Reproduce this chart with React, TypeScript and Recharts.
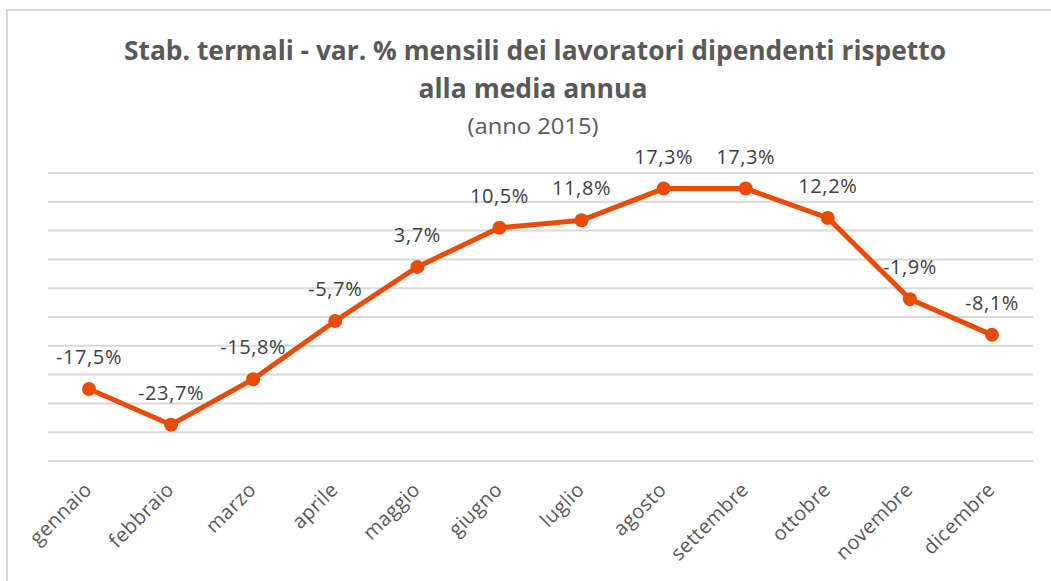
import React from 'react';
import { LineChart, Line, XAxis, YAxis, CartesianGrid, LabelList } from 'recharts';

const months = ['gennaio', 'febbraio', 'marzo', 'aprile', 'maggio', 'giugno', 'luglio', 'agosto', 'settembre', 'ottobre', 'novembre', 'dicembre'];
const variations = [-17.5, -23.7, -15.8, -5.7, 3.7, 10.5, 11.8, 17.3, 17.3, 12.2, -1.9, -8.1];
const yTicks = [-30, -25, -20, -15, -10, -5, 0, 5, 10, 15, 20];

const ORANGE = '#EA4C08';
const TEXT = '#595959';
const FONT = '"Open Sans", sans-serif';

const fmt = (v: number) => `${v.toFixed(1).replace('.', ',')}%`;

function MonthTick({ x, y, payload }: any) {
    const ax = x + 4;
    const ay = y + 22;
    return (
        <text x={ax} y={ay} transform={`rotate(-45, ${ax}, ${ay})`} textAnchor="end"
            fontFamily={FONT} fontSize={20} letterSpacing={0.4} fill={TEXT}>
            {payload.value}
        </text>
    );
}

function PointLabel({ x, y, value }: any) {
    return (
        <text x={x} y={y - 25} textAnchor="middle" fontFamily={FONT} fontSize={20} letterSpacing={0.6} fill="#404040">
            {fmt(Number(value))}
        </text>
    );
}

export default function App() {
    const data = months.map((m, i) => ({ month: m, value: variations[i] }));

    return (
        <div style={{ position: 'absolute', left: 0, top: 0, width: 1051, height: 581, background: '#fff', overflow: 'hidden' }}>
            {/* bordo del grafico */}
            <div style={{ position: 'absolute', left: 6, top: 9, width: 1060, height: 600, borderLeft: '2px solid #d9d9d9', borderTop: '2px solid #d9d9d9' }} />
            <svg width={1051} height={150} style={{ position: 'absolute', left: 0, top: 0 }}>
                <text x={535} y={60} textAnchor="middle" fontFamily={FONT} fontWeight={700} fontSize={26} fill={TEXT}
                    textLength={822} lengthAdjust="spacingAndGlyphs">
                    Stab. termali - var. % mensili dei lavoratori dipendenti rispetto
                </text>
                <text x={533} y={98} textAnchor="middle" fontFamily={FONT} fontWeight={700} fontSize={26} fill={TEXT}
                    textLength={229} lengthAdjust="spacingAndGlyphs">
                    alla media annua
                </text>
                <text x={533} y={134} textAnchor="middle" fontFamily={FONT} fontSize={21} fill={TEXT}
                    textLength={131} lengthAdjust="spacingAndGlyphs">
                    (anno 2015)
                </text>
            </svg>
            <div style={{ position: 'absolute', left: 0, top: 0 }}>
                <LineChart width={1051} height={581} data={data} margin={{ top: 173, right: 18, bottom: 0, left: 48 }}>
                    <CartesianGrid horizontal vertical={false} stroke="#d9d9d9" strokeWidth={2} />
                    <XAxis dataKey="month" height={120} axisLine={false} tickLine={false} interval={0}
                        padding={{ left: 41, right: 41 }} tick={<MonthTick />} />
                    <YAxis hide domain={[-30, 20]} ticks={yTicks} width={0} />
                    <Line type="linear" dataKey="value" stroke={ORANGE} strokeWidth={5}
                        dot={{ r: 7, fill: ORANGE, stroke: ORANGE, strokeWidth: 0 }} activeDot={false} isAnimationActive={false}>
                        <LabelList dataKey="value" content={<PointLabel />} />
                    </Line>
                </LineChart>
            </div>
        </div>
    );
}
